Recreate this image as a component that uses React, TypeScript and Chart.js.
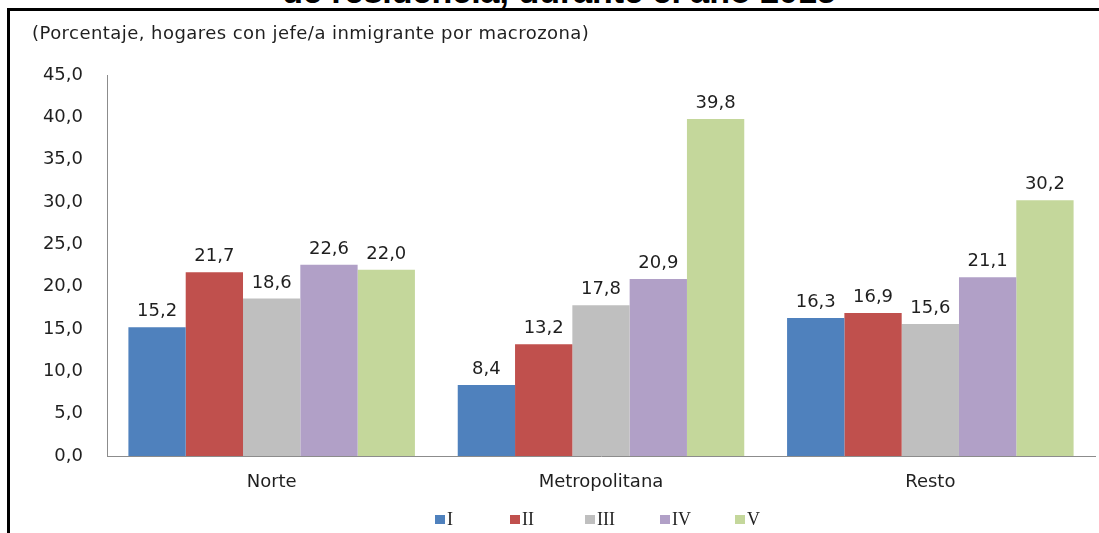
import React, { useEffect, useRef } from "react";
import { Chart, registerables } from "chart.js";

Chart.register(...registerables);

const titleText = "de residencia, durante el año 2015";
const subtitleText = "(Porcentaje, hogares con jefe/a inmigrante por macrozona)";
const categories = ["Norte", "Metropolitana", "Resto"];
const seriesNames = ["I", "II", "III", "IV", "V"];
const quintilI = [15.2, 8.4, 16.3];
const quintilII = [21.7, 13.2, 16.9];
const quintilIII = [18.6, 17.8, 15.6];
const quintilIV = [22.6, 20.9, 21.1];
const quintilV = [22.0, 39.8, 30.2];
const seriesValues = [quintilI, quintilII, quintilIII, quintilIV, quintilV];
const seriesColors = ["#4F81BD", "#C0504D", "#BFBFBF", "#B1A0C7", "#C4D79B"];
const yMin = 0;
const yMax = 45;
const yStep = 5;

const fmt = (v: number) => v.toFixed(1).replace(".", ",");
const SANS = "'DejaVu Sans', Verdana, sans-serif";
const TEXT = "#1F1F1F";

const valueLabels = {
  id: "valueLabels",
  afterDatasetsDraw(chart: any) {
    const ctx = chart.ctx;
    ctx.save();
    ctx.font = `18px ${SANS}`;
    ctx.fillStyle = TEXT;
    ctx.textAlign = "center";
    ctx.textBaseline = "alphabetic";
    chart.data.datasets.forEach((ds: any, di: number) => {
      const meta = chart.getDatasetMeta(di);
      meta.data.forEach((bar: any, i: number) => {
        ctx.fillText(fmt(ds.data[i]), bar.x, bar.y - 11);
      });
    });
    ctx.restore();
  },
};

export default function App() {
  const ref = useRef<HTMLCanvasElement | null>(null);
  useEffect(() => {
    if (!ref.current) return;
    const chart = new Chart(ref.current, {
      type: "bar",
      data: {
        labels: categories,
        datasets: seriesNames.map((n, i) => ({
          label: n,
          data: seriesValues[i],
          backgroundColor: seriesColors[i],
          borderWidth: 0,
          categoryPercentage: 0.87,
          barPercentage: 1,
        })),
      },
      options: {
        animation: false,
        responsive: false,
        maintainAspectRatio: false,
        layout: { padding: { left: 10, right: 4, top: 75, bottom: 37 } },
        plugins: {
          legend: { display: false },
          tooltip: { enabled: false },
          title: { display: false },
        },
        scales: {
          x: {
            grid: { display: false },
            border: { display: true, color: "#8C8C8C", width: 1 },
            ticks: { color: TEXT, font: { family: SANS, size: 18 }, padding: 8 },
            afterFit: (s: any) => { s.height = 40; },
          },
          y: {
            min: yMin,
            max: yMax,
            grid: { display: false },
            border: { display: true, color: "#8C8C8C", width: 1 },
            ticks: {
              stepSize: yStep,
              color: TEXT,
              font: { family: SANS, size: 18 },
              padding: 16,
              callback: (v: any) => fmt(Number(v)),
            },
            afterFit: (s: any) => { s.width = 97; },
          },
        },
      },
      plugins: [valueLabels],
    });
    return () => chart.destroy();
  }, []);

  return (
    <div style={{ position: "fixed", left: 0, top: 0, width: 1099, height: 533, background: "#fff", overflow: "hidden" }}>
      <div style={{ position: "absolute", left: 0, top: -29, width: 1118, textAlign: "center", font: `bold 34px 'Liberation Sans', Arial, sans-serif`, color: "#000", lineHeight: "40px", whiteSpace: "nowrap" }}>
        {titleText}
      </div>
      <div style={{ position: "absolute", left: 7, top: 8, width: 1092, height: 525, borderTop: "3px solid #000", borderLeft: "3px solid #000", boxSizing: "border-box", background: "transparent" }} />
      <canvas ref={ref} width={1099} height={533} style={{ position: "absolute", left: 0, top: 0 }} />
      <div style={{ position: "absolute", left: 32, top: 22, font: `18px ${SANS}`, letterSpacing: "0.45px", color: TEXT, whiteSpace: "nowrap", lineHeight: "22px" }}>
        {subtitleText}
      </div>
      <div style={{ position: "absolute", left: 435, top: 508, display: "flex" }}>
        {seriesNames.map((n, i) => (
          <div key={n} style={{ width: 75, display: "flex", alignItems: "center", height: 22 }}>
            <span style={{ display: "inline-block", width: 10, height: 9, background: seriesColors[i], marginRight: 2 }} />
            <span style={{ font: `18px 'Liberation Serif', 'Times New Roman', serif`, color: TEXT }}>{n}</span>
          </div>
        ))}
      </div>
    </div>
  );
}
